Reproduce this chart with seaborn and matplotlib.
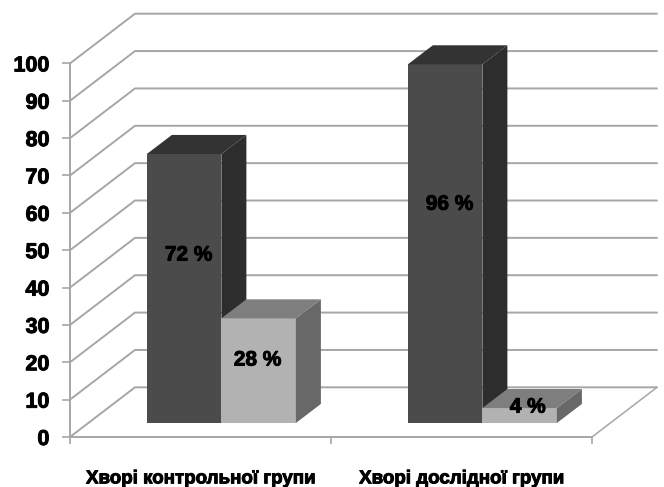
import matplotlib
matplotlib.use("Agg")
import matplotlib.pyplot as plt
import matplotlib.patheffects as pe
import pandas as pd
import seaborn as sns
from matplotlib.patches import Polygon

# Survey shares per patient group
groups = ["Хворі контрольної групи", "Хворі дослідної групи"]
series_a = [72, 96]
series_b = [28, 4]
value_labels = ["72 %", "96 %", "28 %", "4 %"]
y_ticks = list(range(0, 101, 10))

# Pseudo-3D layout, in data units (one category = 1, one value point = 1)
WALL_DX, WALL_DY = 0.249, 13.3      # floor depth from front edge to back wall
BAR_SHIFT_X, BAR_LIFT = 0.080, 3.75  # where the bar fronts stand on the floor
BAR_DX, BAR_DY = 0.0958, 5.1        # depth of each bar
BAR_WIDTH = 0.571
LABEL_X = [0.017, 0.017, -0.004, 0.031]  # label nudges, same order as value_labels
LABEL_Y = [48.7, 62.3, 20.6, 8.0]        # label heights, same order as value_labels

GRID = "#a6a6a6"
FACES = {
    "a": dict(front="#4b4b4b", side="#2d2d2d", top="#333333"),
    "b": dict(front="#b2b2b2", side="#686868", top="#7e7e7e"),
}
HEAVY = [pe.withStroke(linewidth=0.7, foreground="black")]

sns.set_theme(style="white")
plt.rcParams["font.family"] = ["Liberation Sans", "DejaVu Sans"]
plt.rcParams["font.weight"] = "bold"

df = pd.DataFrame({
    "group": groups * 2,
    "share": series_a + series_b,
    "series": ["a"] * len(groups) + ["b"] * len(groups),
})

fig = plt.figure(figsize=(6.64, 4.87), dpi=100, facecolor="white")
ax = fig.add_axes([70 / 664, 50 / 487, 522 / 664, 373.6 / 487])

sns.barplot(
    data=df, x="group", y="share", hue="series",
    palette={k: v["front"] for k, v in FACES.items()},
    width=BAR_WIDTH, gap=0, dodge=True, legend=False, errorbar=None,
    saturation=1, linewidth=0, ax=ax,
)
ax.set_xlim(-0.5, 1.5)
ax.set_ylim(0, 100)

# Back wall and floor grid
for y in y_ticks:
    ax.plot([-0.5, -0.5 + WALL_DX, 1.5 + WALL_DX], [y, y + WALL_DY, y + WALL_DY],
            color=GRID, lw=1.4, clip_on=False, zorder=1, solid_joinstyle="miter")
ax.plot([1.5, 1.5 + WALL_DX], [0, WALL_DY], color=GRID, lw=1.1, clip_on=False, zorder=1)

# Move the bars onto the floor and give them top and side faces
series_order = ["a", "a", "b", "b"]
for patch, key in zip(ax.patches, series_order):
    faces = FACES[key]
    z = 3 if key == "a" else 4
    patch.set_x(patch.get_x() + BAR_SHIFT_X)
    patch.set_y(BAR_LIFT)
    patch.set_zorder(z)
    x0, x1 = patch.get_x(), patch.get_x() + patch.get_width()
    y0, y1 = BAR_LIFT, BAR_LIFT + patch.get_height()
    ax.add_patch(Polygon(
        [(x1, y0), (x1 + BAR_DX, y0 + BAR_DY), (x1 + BAR_DX, y1 + BAR_DY), (x1, y1)],
        facecolor=faces["side"], edgecolor="none", zorder=z, clip_on=False))
    ax.add_patch(Polygon(
        [(x0, y1), (x0 + BAR_DX, y1 + BAR_DY), (x1 + BAR_DX, y1 + BAR_DY), (x1, y1)],
        facecolor=faces["top"], edgecolor="none", zorder=z, clip_on=False))

# Value labels sit freely on the bars
for patch, text, dx, y in zip(ax.patches, value_labels, LABEL_X, LABEL_Y):
    ax.text(patch.get_x() + patch.get_width() / 2 + dx, y, text, ha="center", va="center",
            fontsize=15, fontweight="bold", color="black", zorder=6, path_effects=HEAVY)

# Axes frame
sns.despine(ax=ax)
for side in ("left", "bottom"):
    ax.spines[side].set_color(GRID)
    ax.spines[side].set_linewidth(1.4)
ax.set_xlabel("")
ax.set_ylabel("")
ax.set_yticks(y_ticks)
ax.set_xticks([0, 1])
ax.set_xticklabels(groups)
ax.set_xticks([-0.5, 0.5, 1.5], minor=True)
ax.tick_params(axis="y", left=True, length=5.8, width=1.2, color=GRID, pad=9,
               labelsize=15.5, labelcolor="black")
ax.tick_params(axis="x", which="major", bottom=False, pad=17.5, labelsize=13.5, labelcolor="black")
ax.tick_params(axis="x", which="minor", bottom=True, length=5, width=1.2, color=GRID)
for lab in ax.get_yticklabels() + ax.get_xticklabels():
    lab.set_fontweight("bold")
    lab.set_path_effects(HEAVY)

fig.savefig("out.png", dpi=100, facecolor="white")
